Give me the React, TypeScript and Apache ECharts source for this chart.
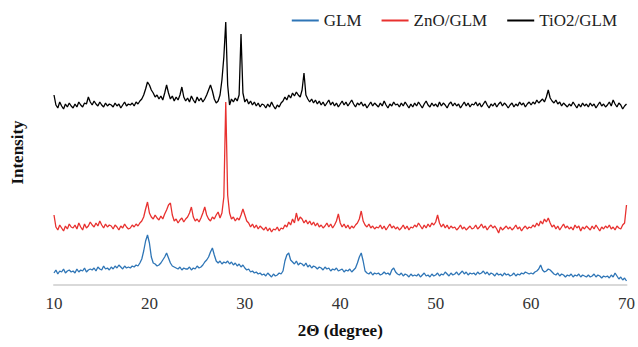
import React, { useEffect, useRef } from "react";
import * as echarts from "echarts";

// 2θ grid of the scan (degrees)
const angleStart = 10;
const angleStep = 0.2;

const seriesNames = ["GLM", "ZnO/GLM", "TiO2/GLM"];

// Intensity (a.u.), one value per 0.2°, 10° → 70°
const glm = [
  12, 15, 11, 14, 13, 16, 12, 14, 15, 13,
  14, 12, 16, 13, 15, 14, 17, 13, 15, 16,
  15, 17, 14, 18, 16, 15, 19, 16, 17, 15,
  18, 16, 19, 17, 20, 18, 16, 19, 17, 18,
  17, 19, 18, 20, 19, 22, 26, 34, 44, 50,
  42, 28, 22, 21, 19, 20, 22, 25, 28, 32,
  27, 22, 19, 18, 17, 16, 18, 15, 17, 16,
  16, 18, 15, 17, 16, 19, 17, 18, 20, 23,
  25, 28, 33, 37, 30, 24, 22, 24, 21, 23,
  22, 24, 21, 23, 20, 22, 19, 21, 18, 20,
  17, 15, 16, 13, 14, 12, 13, 11, 12, 10,
  11, 9, 12, 10, 8, 11, 9, 10, 12, 11,
  14, 24, 30, 32, 25, 23, 21, 24, 20, 22,
  21, 19, 22, 18, 20, 17, 19, 18, 16, 18,
  17, 15, 18, 16, 17, 14, 16, 15, 17, 14,
  15, 16, 13, 15, 14, 16, 13, 15, 17, 22,
  28, 32, 24, 14, 12, 11, 13, 10, 12, 11,
  12, 10, 11, 13, 11, 12, 10, 15, 17, 13,
  11, 10, 12, 9, 11, 10, 8, 11, 9, 10,
  9, 11, 8, 10, 12, 9, 10, 8, 11, 9,
  10, 12, 9, 11, 10, 13, 11, 9, 12, 10,
  11, 13, 10, 12, 14, 11, 13, 10, 12, 11,
  12, 10, 13, 11, 12, 14, 11, 13, 10, 12,
  11, 9, 12, 10, 11, 9, 12, 10, 11, 9,
  10, 12, 9, 11, 10, 12, 11, 13, 12, 11,
  12, 11, 13, 14, 16, 20, 15, 13, 14, 16,
  15, 13, 11, 10, 12, 9, 11, 10, 8, 10,
  9, 11, 8, 10, 9, 11, 8, 10, 9, 8,
  10, 8, 9, 11, 8, 10, 9, 7, 9, 8,
  9, 7, 10, 8, 12, 9, 6, 8, 5, 7, 4,
];

const znoGlm = [
  70, 58, 55, 60, 57, 54, 59, 56, 61, 58,
  57, 60, 56, 62, 58, 55, 61, 57, 59, 63,
  60, 58, 62, 59, 64, 60, 57, 61, 58, 60,
  59, 56, 60, 58, 55, 59, 57, 61, 58, 56,
  57, 60, 58, 61, 59, 62, 64, 68, 76, 83,
  72, 68, 66, 70, 67, 65, 69, 66, 71, 75,
  80, 82, 70, 64, 66, 62, 65, 67, 63, 66,
  68, 72, 78, 68, 64, 66, 63, 67, 72, 78,
  70, 66, 64, 68, 66, 70, 73, 67, 72, 88,
  183, 90, 72, 66, 68, 64, 67, 65, 70, 76,
  70, 64, 62, 58, 61, 57, 60, 56, 59, 57,
  55, 58, 54, 57, 53, 56, 55, 58, 54, 57,
  56, 60, 58, 63, 60, 66, 62, 72, 64, 68,
  66, 62, 65, 61, 64, 60, 63, 59, 62, 58,
  60, 57, 59, 62, 58, 61, 57, 60, 64, 71,
  62, 58, 61, 57, 60, 56, 59, 57, 60, 62,
  66, 74, 64, 60, 58, 61, 57, 59, 56, 58,
  57, 60, 56, 59, 55, 58, 61, 57, 59, 56,
  58, 55, 57, 60, 56, 59, 55, 58, 57, 60,
  58, 62, 59, 56, 60, 57, 61, 58, 62, 60,
  63, 70, 62, 58, 61, 57, 60, 56, 59, 57,
  58, 55, 57, 60, 56, 58, 55, 57, 59, 56,
  57, 60, 56, 58, 61, 57, 59, 55, 58, 60,
  57, 59, 56, 52, 58, 55, 57, 59, 56, 58,
  55, 57, 60, 56, 58, 54, 57, 59, 56, 58,
  57, 60, 58, 62, 59, 64, 61, 66, 63, 67,
  62, 58, 60, 56, 59, 55, 58, 61, 57, 59,
  56, 58, 55, 60, 57, 59, 54, 58, 56, 59,
  57, 55, 59, 56, 60, 57, 54, 58, 56, 59,
  57, 60, 56, 58, 55, 59, 57, 56, 60, 62, 80,
];

const tio2Glm = [
  190, 180, 177, 183, 179, 176, 181, 178, 182, 179,
  177, 181, 178, 183, 180, 178, 182, 181, 188, 183,
  180, 184, 181, 179, 183, 180, 178, 182, 179, 181,
  180, 178, 182, 179, 181, 177, 180, 183, 179, 181,
  180, 182, 179, 183, 181, 184, 186, 190, 196, 203,
  200, 195, 192, 188, 190, 186, 189, 185, 192, 200,
  192, 186, 189, 184, 188, 185, 190, 198, 188, 184,
  187, 183, 189, 185, 182, 188, 184, 187, 183, 186,
  190, 195, 200, 194, 186, 182, 184, 190, 205, 228,
  263, 200, 180, 186, 183, 187, 184, 190, 251, 192,
  183, 186, 181, 184, 180, 183, 179, 182, 178, 181,
  180, 177, 181, 178, 183, 179, 176, 180, 178, 182,
  184, 188, 185, 190, 187, 192, 189, 193, 190, 188,
  195, 212, 190, 186, 183, 186, 182, 185, 181, 184,
  180, 183, 179, 182, 185, 180, 183, 179, 182, 178,
  181, 184, 180, 183, 179, 182, 185, 181, 178, 182,
  180, 183, 179, 181, 177, 180, 183, 179, 182, 180,
  178, 182, 179, 184, 180, 177, 181, 179, 183, 180,
  181, 178, 182, 179, 183, 180, 177, 181, 178, 182,
  179, 183, 180, 177, 181, 184, 180, 178, 182, 179,
  181, 178, 183, 179, 182, 180, 177, 181, 183, 179,
  182, 179, 181, 177, 180, 183, 179, 182, 178, 181,
  180, 183, 179, 182, 178, 181, 184, 180, 177, 181,
  179, 182, 178, 181, 183, 179, 182, 180, 177, 180,
  182, 178, 181, 179, 183, 180, 182, 178, 181, 183,
  180, 183, 181, 185, 182, 184, 186, 183, 188, 195,
  187, 184, 182, 185, 181, 183, 179, 182, 180, 178,
  181, 179, 183, 180, 177, 181, 178, 182, 179, 181,
  178, 182, 179, 181, 177, 180, 183, 179, 181, 178,
  180, 183, 179, 185, 181, 178, 182, 180, 176, 179, 181,
];

const xTicks = { min: 10, max: 70, interval: 10 };
const colors = ["#2E75B6", "#E8312F", "#000000"];

const toPairs = (vals: number[]) =>
  vals.map((v, i) => [+(angleStart + i * angleStep).toFixed(2), v]);

export default function App() {
  const ref = useRef<HTMLDivElement>(null);
  useEffect(() => {
    document.body.style.margin = "0";
    if (!ref.current) return;
    const chart = echarts.init(ref.current, null, { renderer: "svg" });
    const serif = "Liberation Serif";
    const all = [glm, znoGlm, tio2Glm];
    chart.setOption({
      animation: false,
      color: colors,
      textStyle: { fontFamily: serif },
      legend: {
        right: 16,
        top: 7,
        itemWidth: 27,
        itemHeight: 2,
        itemGap: 20,
        icon: "rect",
        textStyle: { fontFamily: serif, fontSize: 17, color: "#222" },
        data: seriesNames,
      },
      grid: { left: 54, right: 9, top: 20, bottom: 62 },
      xAxis: {
        type: "value",
        min: xTicks.min,
        max: xTicks.max,
        interval: xTicks.interval,
        name: "2Θ (degree)",
        nameLocation: "middle",
        nameGap: 37,
        nameTextStyle: { fontFamily: serif, fontSize: 17, fontWeight: "bold", color: "#111" },
        axisLine: { lineStyle: { color: "#d9d9d9", width: 2 } },
        axisTick: { show: false },
        splitLine: { show: false },
        axisLabel: { fontFamily: serif, fontSize: 17, color: "#333", margin: 10 },
      },
      yAxis: {
        type: "value",
        min: 0,
        max: 265,
        name: "Intensity",
        nameLocation: "middle",
        nameGap: 28,
        nameTextStyle: { fontFamily: serif, fontSize: 17, fontWeight: "bold", color: "#111" },
        axisLine: { show: false },
        axisTick: { show: false },
        axisLabel: { show: false },
        splitLine: { show: false },
      },
      series: seriesNames.map((n, k) => ({
        name: n,
        type: "line",
        data: toPairs(all[k]),
        symbol: "none",
        lineStyle: { width: 1.3, color: colors[k] },
        itemStyle: { color: colors[k] },
      })),
    });
    return () => chart.dispose();
  }, []);
  return <div ref={ref} style={{ width: 638, height: 347 }} />;
}
